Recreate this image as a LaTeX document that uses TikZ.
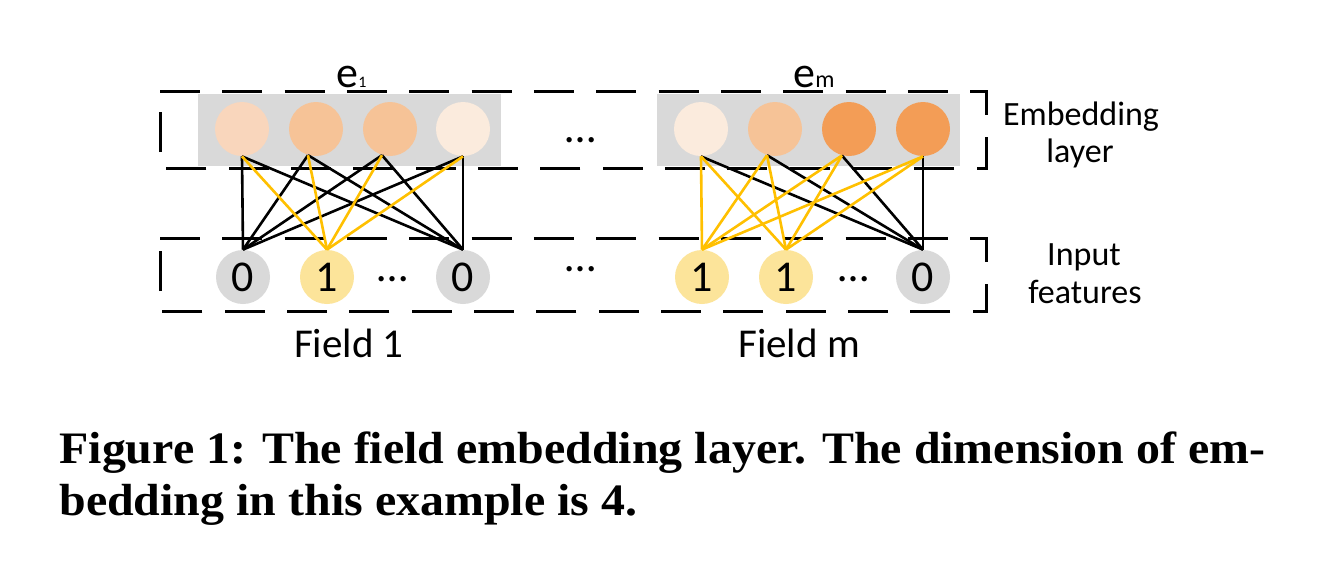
\documentclass[tikz,border=0pt]{standalone}
\usepackage{fontspec}
\usepackage{graphicx}
\setmainfont{Carlito}
\newfontfamily\capfont{Liberation Serif}
\definecolor{cGray}{HTML}{D9D9D9}
\definecolor{cLight}{HTML}{FBEBDD}
\definecolor{cPeach}{HTML}{F9D6BC}
\definecolor{cMid}{HTML}{F6C397}
\definecolor{cDark}{HTML}{F39D56}
\definecolor{cYel}{HTML}{FCE49A}
\definecolor{cGold}{HTML}{FFC000}
\tikzset{
  emb/.style={circle, minimum size=27pt, inner sep=0pt, draw=none},
  inp/.style={circle, minimum size=27pt, inner sep=0pt, draw=none, font=\fontsize{22}{26}\selectfont},
  dsh/.style={line width=1.5pt, dash pattern=on 20pt off 11.16pt, line cap=butt},
  blk/.style={line width=1.3pt, black},
  ylw/.style={line width=1.3pt, cGold},
  lbl/.style={inner sep=0pt, anchor=base, font=\fontsize{17}{20}\selectfont},
  fld/.style={inner sep=0pt, anchor=base, font=\fontsize{20.5}{24}\selectfont},
  dots/.style={inner sep=0pt, anchor=base, font=\fontsize{22}{26}\selectfont},
  capl/.style={inner sep=0pt, anchor=base west}
}
\newsavebox\capA
\newsavebox\capB
\begin{document}
\sbox\capA{\capfont\bfseries\fontsize{22.5}{26}\selectfont Figure 1: The field embedding layer. The dimension of em-}
\sbox\capB{\capfont\bfseries\fontsize{22.5}{26}\selectfont bedding in this example is 4.}
\begin{tikzpicture}[x=0.5pt,y=-0.5pt]
\useasboundingbox (0,0) rectangle (1319,585);
\fill[white] (0,0) rectangle (1319,585);
% gray embedding backgrounds
\fill[cGray] (198,94) rectangle (501,166);
\fill[cGray] (657,94) rectangle (960,166);
% dashed frames
\draw[dsh] (160,91) -- (986,91) -- (986,168) -- (160,168) -- cycle;
\draw[dsh] (160,238) -- (986,238) -- (986,311) -- (160,311) -- cycle;
% embedding circles field 1
\node[emb, fill=cPeach] (t11) at (242,129) {};
\node[emb, fill=cMid]   (t12) at (316,129) {};
\node[emb, fill=cMid]   (t13) at (390,129) {};
\node[emb, fill=cLight] (t14) at (463,129) {};
% embedding circles field m
\node[emb, fill=cLight] (tm1) at (701,129) {};
\node[emb, fill=cMid]   (tm2) at (775,129) {};
\node[emb, fill=cDark]  (tm3) at (849,129) {};
\node[emb, fill=cDark]  (tm4) at (923,129) {};
% input circles
\node[inp, fill=cGray] (b11) at (243,277) {0};
\node[inp, fill=cYel]  (b12) at (327,277) {1};
\node[inp, fill=cGray] (b13) at (463,277) {0};
\node[inp, fill=cYel]  (bm1) at (702,277) {1};
\node[inp, fill=cYel]  (bm2) at (786,277) {1};
\node[inp, fill=cGray] (bm3) at (923,277) {0};
% connectors field 1
\foreach \a in {t11.south,t12.253,t13.253,t14.south}{
  \draw[blk] (\a) -- (b11.north);
  \draw[blk] (\a) -- (b13.north);
}
\foreach \a in {t11.south,t12.253,t13.253,t14.south}{
  \draw[ylw] (\a) -- (b12.north);
}
% connectors field m
\foreach \a in {tm1.south,tm2.253,tm3.255,tm4.south}{
  \draw[blk] (\a) -- (bm3.north);
}
\foreach \a in {tm1.south,tm2.253,tm3.255,tm4.south}{
  \draw[ylw] (\a) -- (bm1.north);
  \draw[ylw] (\a) -- (bm2.north);
}
% dots
\node[dots] (d1) at (580.5,142) {…};
\node[dots] (d2) at (580.5,271) {…};
\node[dots] (d3) at (392.5,281) {…};
\node[dots] (d4) at (853.5,281) {…};
% titles
\node[inner sep=0pt, anchor=base west] (e1) at (336,87) {\fontsize{22}{26}\selectfont e\fontsize{8}{10}\selectfont 1};
\node[inner sep=0pt, anchor=base west] (em) at (793,87) {\fontsize{22}{26}\selectfont e\fontsize{12}{14}\selectfont m};
% right labels
\node[lbl] (l1) at (1081,125) {Embedding};
\node[lbl] (l2) at (1080,162) {layer};
\node[lbl] (l3) at (1084,265) {Input};
\node[lbl] (l4) at (1085,303) {features};
% field labels
\node[fld] (f1) at (349,357) {Field 1};
\node[fld] (fm) at (799,357) {Field m};
% caption
\pgfmathsetmacro\capsc{603/\the\wd\capA}
\node[capl] (cap1) at (59,463) {\scalebox{\capsc}[1]{\usebox\capA}};
\node[capl] (cap2) at (59,515) {\scalebox{\capsc}[1]{\usebox\capB}};
\end{tikzpicture}
\end{document}
